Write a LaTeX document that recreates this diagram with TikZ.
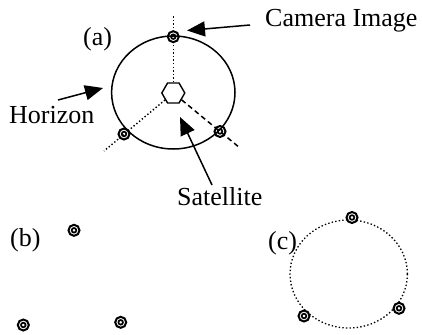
\documentclass[tikz,border=0pt]{standalone}
\usepackage{fontspec}
\setmainfont{Liberation Serif}
\usetikzlibrary{arrows.meta,shapes.geometric}

\begin{document}
\begin{tikzpicture}[
    x=1pt,y=-1pt,
    sensor/.style={circle,draw,line width=2pt,minimum size=11pt,inner sep=0pt,
      path picture={\draw[line width=1.7pt] (path picture bounding box.center) circle[radius=2.3pt];}},
    sathex/.style={regular polygon,regular polygon sides=6,draw,line width=1.4pt,minimum size=23pt,inner sep=0pt},
    lbl/.style={font=\rmfamily\fontsize{26}{30}\selectfont,inner sep=0pt,anchor=base west},
    arr/.style={-{Triangle[length=18pt,width=15pt]},line width=1.5pt},
    ray/.style={line width=1.4pt,dash pattern=on 1.4pt off 2.2pt},
    dashray/.style={line width=1.5pt,dash pattern=on 5pt off 3.5pt}
  ]
    \useasboundingbox (0,0) rectangle (422,334);
    % (a) horizon with the satellite inside
    \draw[line width=1.5pt] (173.3,92.5) ellipse [x radius=61.7pt,y radius=56.5pt];
    \node[sathex] (sat) at (173.3,93) {};
    \coordinate (topEnd) at (173.3,15);
    \coordinate (leftEnd) at (104,151);
    \coordinate (rightEnd) at (240,148);
    \draw[ray] (sat) -- (topEnd);
    \draw[ray] (sat) -- (leftEnd);
    \draw[dashray] (sat) -- (rightEnd);
    \node[sensor] (camA) at (173.3,36.7) {};
    \node[sensor] (camL) at (124,134) {};
    \node[sensor] (camR) at (220,131.5) {};
    \node[lbl] (lblA) at (83,46) {(a)};
    \node[lbl] (camera) at (265,27) {Camera Image};
    \node[lbl] (horizon) at (9,123) {Horizon};
    \node[lbl] (satellite) at (177,205) {Satellite};
    \coordinate (camTail) at (250,25);
    \coordinate (camTip) at (187,30.5);
    \coordinate (horTail) at (58,100);
    \coordinate (horTip) at (103,88);
    \coordinate (satTail) at (212,185);
    \coordinate (satTip) at (180,117);
    \draw[arr] (camTail) -- (camTip);
    \draw[arr] (horTail) -- (horTip);
    \draw[arr] (satTail) -- (satTip);
    % (b) image points only
    \node[lbl] (lblB) at (10,246) {(b)};
    \node[sensor] (ptB1) at (74,230.3) {};
    \node[sensor] (ptB2) at (23.3,325) {};
    \node[sensor] (ptB3) at (120.7,322.3) {};
    % (c) fitted horizon
    \draw[ray,line width=1.3pt] (348.7,274) ellipse [x radius=58.7pt,y radius=54pt];
    \node[lbl] (lblC) at (268,249) {(c)};
    \node[sensor,fill=white] (ptC1) at (352,217.5) {};
    \node[sensor,fill=white] (ptC2) at (304,316) {};
    \node[sensor,fill=white] (ptC3) at (399,308.3) {};
\end{tikzpicture}
\end{document}
